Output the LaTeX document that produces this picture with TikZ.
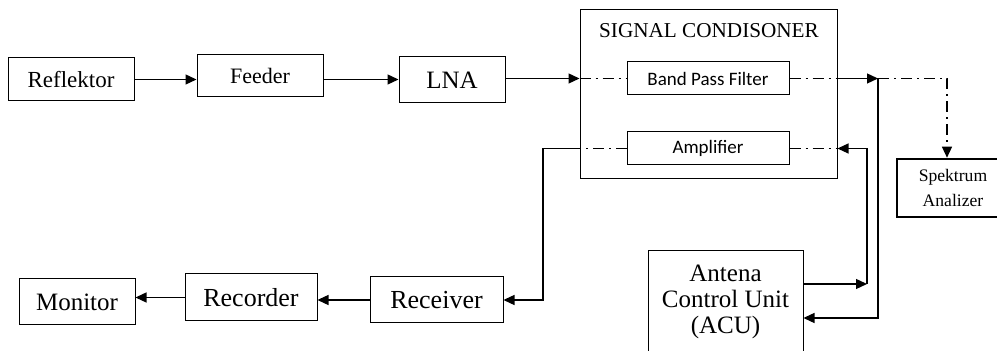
\documentclass[tikz,border=0pt]{standalone}
\usepackage{fontspec}
\setmainfont{Liberation Serif}
\newfontfamily\calib{Carlito}
\usetikzlibrary{arrows.meta}
\newcommand{\fs}[1]{\fontsize{#1}{1.05\dimexpr#1pt\relax}\selectfont}
\tikzset{
	blok/.style={draw, line width=0.5pt, inner sep=0pt, align=center},
	sigline/.style={dash pattern=on 5.5pt off 2.5pt on 1pt off 2.5pt},
	>={Triangle[length=5.5pt,width=5pt]}
}

\begin{document}
\begin{tikzpicture}[x=0.5pt,y=-0.5pt,line width=0.65pt]
	\useasboundingbox (0,0) rectangle (997,351);
	% top row
	\node[blok,minimum width=63pt,minimum height=21.5pt,font=\fs{11.5}] (Refl) at (71,79.5) {Reflektor};
	\node[blok,minimum width=63pt,minimum height=21pt,font=\fs{11}] (Feed) at (260,76) {Feeder};
	\node[blok,minimum width=53pt,minimum height=23pt,font=\fs{12.5}] (LNA) at (452,80) {LNA};
	\node[blok,minimum width=128.5pt,minimum height=84.5pt] (SC) at (708.5,94.5) {};
	\node[font=\fs{10.6}] (SCT) at (709,31) {SIGNAL CONDISONER};
	\node[blok,minimum width=81pt,minimum height=16.5pt,font=\calib\fs{9.5}] (BPF) at (708,78.5) {Band Pass Filter};
	\node[blok,minimum width=81pt,minimum height=16.5pt,font=\calib\fs{9.5}] (Amp) at (708,148.5) {Amplifier};
	\node[blok,line width=1.3pt,minimum width=56pt,minimum height=29pt,font=\fontsize{8.8}{12.5}\selectfont] (Spek) at (953,188) {Spektrum\\Analizer};
	% bottom row
	\node[blok,minimum width=77.5pt,minimum height=51pt,font=\fs{12.5}] (ACU) at (725.5,302) {Antena\\Control Unit\\(ACU)};
	\node[blok,minimum width=58pt,minimum height=23pt,font=\fs{12.5}] (Mon) at (77,302) {Monitor};
	\node[blok,minimum width=66pt,minimum height=23.5pt,font=\fs{13}] (Rec) at (251,297.5) {Recorder};
	\node[blok,minimum width=66.5pt,minimum height=23pt,font=\fs{13}] (Rcv) at (436.5,300) {Receiver};
	\coordinate (J) at (878,78.5);
	\coordinate (M) at (947,78.5);
	\coordinate (K) at (867,284);
	\coordinate (L) at (543,148.5);
	\path[->] (Refl.east) edge[] (Refl.east -| Feed.west);
	\path[->] (Refl.east -| Feed.east) edge[] (Refl.east -| LNA.west);
	\path[->] (LNA.east |- BPF.west) edge[] (SC.west |- BPF.west);
	\path[sigline] (SC.west |- BPF.west) edge[] (BPF.west);
	\path[sigline] (BPF.east) edge[] (SC.east |- BPF.east);
	\path[->] (SC.east |- BPF.east) edge[] (J);
	\draw[->,sigline] (J) -- (M) -- (M |- Spek.north);
	\draw[->] (J) |- ([yshift=-8pt]ACU.east);
	\path[->] ([yshift=9pt]ACU.east) edge[] (K);
	\draw[->] (K) |- (SC.east |- Amp.east);
	\path[sigline] (Amp.east) edge[] (SC.east |- Amp.east);
	\path[sigline] (Amp.west) edge[] (SC.west |- Amp.west);
	\draw[->] (SC.west |- Amp.west) -- (L) |- (Rcv.east);
	\path[->] (Rcv.west) edge[] (Rcv.west -| Rec.east);
	\path[->] (Rec.west) edge[] (Rec.west -| Mon.east);
\end{tikzpicture}
\end{document}
